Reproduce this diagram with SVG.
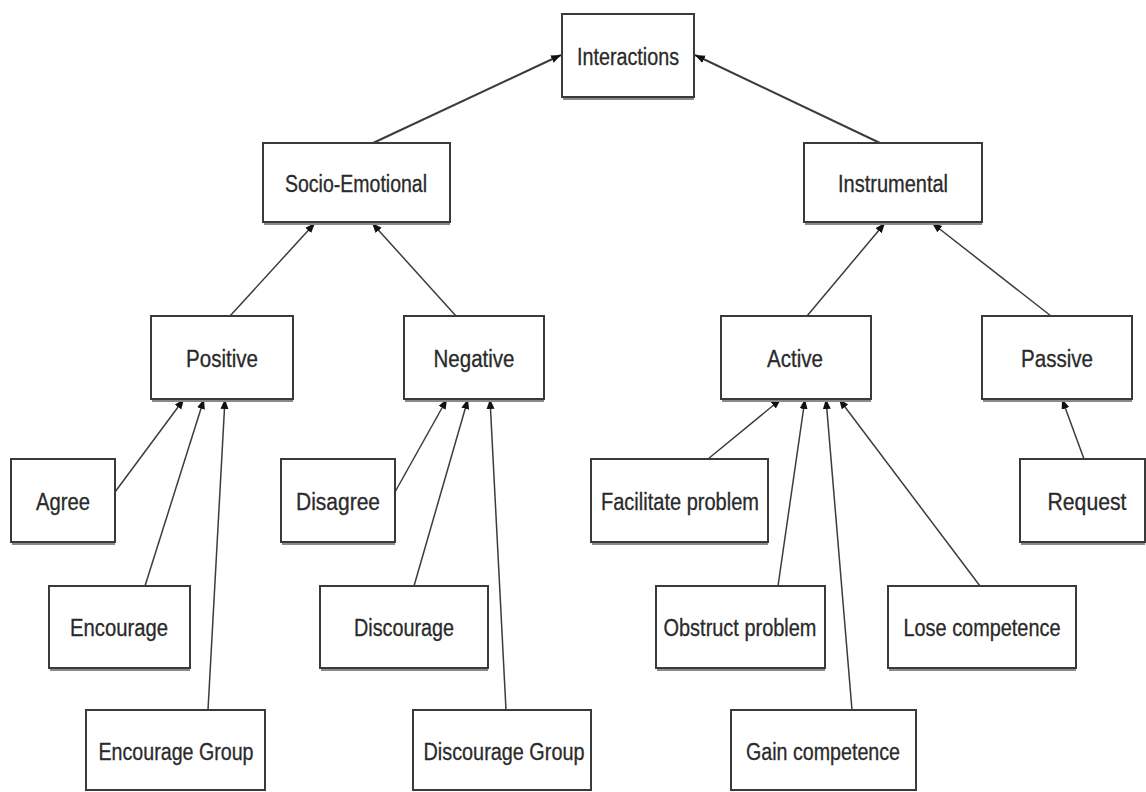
<svg xmlns="http://www.w3.org/2000/svg" width="1146" height="792" viewBox="0 0 1146 792">
<style>
.box{fill:#ffffff;stroke:#3a3a3a;stroke-width:2}
.sh{fill:none;stroke:#8a8a8a;stroke-width:2}
.lbl{font-family:"Liberation Sans",Arial,sans-serif;font-size:23px;fill:#2a2a2a;text-anchor:middle;stroke:#2a2a2a;stroke-width:0.3}
.c{stroke:#3c3c3c;stroke-width:1.5;fill:none;marker-end:url(#ah)}
.ct{stroke:#3c3c3c;stroke-width:2;fill:none;marker-end:url(#ah)}
</style>
<defs>
<marker id="ah" markerUnits="userSpaceOnUse" markerWidth="12" markerHeight="10" refX="10" refY="4" orient="auto">
<path d="M0,0 L10,4 L0,8 Z" fill="#111"/>
</marker>
</defs>
<rect width="1146" height="792" fill="#ffffff"/>
<g id="connectors">
<line class="ct" x1="373" y1="143" x2="561" y2="55"/>
<line class="ct" x1="880" y1="143" x2="695" y2="55"/>
<line class="c" x1="230" y1="316" x2="315" y2="223"/>
<line class="c" x1="456" y1="316" x2="372" y2="223"/>
<line class="c" x1="807" y1="316" x2="885" y2="223"/>
<line class="c" x1="1051" y1="316" x2="932" y2="223"/>
<line class="c" x1="115" y1="492" x2="184" y2="399"/>
<line class="c" x1="145" y1="586" x2="204" y2="399"/>
<line class="c" x1="208" y1="710" x2="225" y2="399"/>
<line class="c" x1="395" y1="492" x2="447" y2="399"/>
<line class="c" x1="414" y1="586" x2="468" y2="399"/>
<line class="c" x1="506" y1="710" x2="490" y2="399"/>
<line class="c" x1="708" y1="459" x2="781" y2="399"/>
<line class="c" x1="778" y1="586" x2="805" y2="399"/>
<line class="c" x1="852" y1="710" x2="826" y2="399"/>
<line class="c" x1="980" y1="586" x2="839" y2="399"/>
<line class="c" x1="1084" y1="459" x2="1062" y2="399"/>
</g>
<g id="interactions"><line class="sh" x1="563" y1="99" x2="694" y2="99"/><rect class="box" x="562" y="14" width="132" height="83"/><text class="lbl" x="628" y="65" textLength="102" lengthAdjust="spacingAndGlyphs">Interactions</text></g>
<g id="socio-emotional"><line class="sh" x1="264" y1="224" x2="450" y2="224"/><rect class="box" x="263" y="143" width="187" height="79"/><text class="lbl" x="356" y="192" textLength="142" lengthAdjust="spacingAndGlyphs">Socio-Emotional</text></g>
<g id="instrumental"><line class="sh" x1="805" y1="224" x2="982" y2="224"/><rect class="box" x="804" y="143" width="178" height="79"/><text class="lbl" x="893" y="192" textLength="110" lengthAdjust="spacingAndGlyphs">Instrumental</text></g>
<g id="positive"><line class="sh" x1="152" y1="401" x2="293" y2="401"/><rect class="box" x="151" y="316" width="142" height="83"/><text class="lbl" x="222" y="367" textLength="72" lengthAdjust="spacingAndGlyphs">Positive</text></g>
<g id="negative"><line class="sh" x1="405" y1="401" x2="544" y2="401"/><rect class="box" x="404" y="316" width="140" height="83"/><text class="lbl" x="474" y="367" textLength="81" lengthAdjust="spacingAndGlyphs">Negative</text></g>
<g id="active"><line class="sh" x1="722" y1="401" x2="871" y2="401"/><rect class="box" x="721" y="316" width="150" height="83"/><text class="lbl" x="795" y="367" textLength="56" lengthAdjust="spacingAndGlyphs">Active</text></g>
<g id="passive"><line class="sh" x1="983" y1="401" x2="1132" y2="401"/><rect class="box" x="982" y="316" width="150" height="83"/><text class="lbl" x="1057" y="367" textLength="72" lengthAdjust="spacingAndGlyphs">Passive</text></g>
<g id="agree"><line class="sh" x1="12" y1="544" x2="115" y2="544"/><rect class="box" x="11" y="459" width="104" height="83"/><text class="lbl" x="63" y="510" textLength="54" lengthAdjust="spacingAndGlyphs">Agree</text></g>
<g id="disagree"><line class="sh" x1="282" y1="544" x2="395" y2="544"/><rect class="box" x="281" y="459" width="114" height="83"/><text class="lbl" x="338" y="510" textLength="84" lengthAdjust="spacingAndGlyphs">Disagree</text></g>
<g id="facilitate-problem"><line class="sh" x1="592" y1="544" x2="768" y2="544"/><rect class="box" x="591" y="459" width="177" height="83"/><text class="lbl" x="680" y="510" textLength="158" lengthAdjust="spacingAndGlyphs">Facilitate problem</text></g>
<g id="request"><line class="sh" x1="1021" y1="544" x2="1145" y2="544"/><rect class="box" x="1020" y="459" width="125" height="83"/><text class="lbl" x="1087" y="510" textLength="79" lengthAdjust="spacingAndGlyphs">Request</text></g>
<g id="encourage"><line class="sh" x1="50" y1="670" x2="190" y2="670"/><rect class="box" x="49" y="586" width="141" height="82"/><text class="lbl" x="119" y="636" textLength="98" lengthAdjust="spacingAndGlyphs">Encourage</text></g>
<g id="discourage"><line class="sh" x1="321" y1="670" x2="488" y2="670"/><rect class="box" x="320" y="586" width="168" height="82"/><text class="lbl" x="404" y="636" textLength="100" lengthAdjust="spacingAndGlyphs">Discourage</text></g>
<g id="obstruct-problem"><line class="sh" x1="657" y1="670" x2="825" y2="670"/><rect class="box" x="656" y="586" width="169" height="82"/><text class="lbl" x="740" y="636" textLength="153" lengthAdjust="spacingAndGlyphs">Obstruct problem</text></g>
<g id="lose-competence"><line class="sh" x1="889" y1="670" x2="1076" y2="670"/><rect class="box" x="888" y="586" width="188" height="82"/><text class="lbl" x="982" y="636" textLength="157" lengthAdjust="spacingAndGlyphs">Lose competence</text></g>
<g id="encourage-group"><rect class="box" x="86" y="710" width="179" height="80"/><text class="lbl" x="176" y="760" textLength="155" lengthAdjust="spacingAndGlyphs">Encourage Group</text></g>
<g id="discourage-group"><rect class="box" x="413" y="710" width="178" height="80"/><text class="lbl" x="504" y="760" textLength="161" lengthAdjust="spacingAndGlyphs">Discourage Group</text></g>
<g id="gain-competence"><rect class="box" x="731" y="710" width="185" height="80"/><text class="lbl" x="823" y="760" textLength="154" lengthAdjust="spacingAndGlyphs">Gain competence</text></g>
</svg>
